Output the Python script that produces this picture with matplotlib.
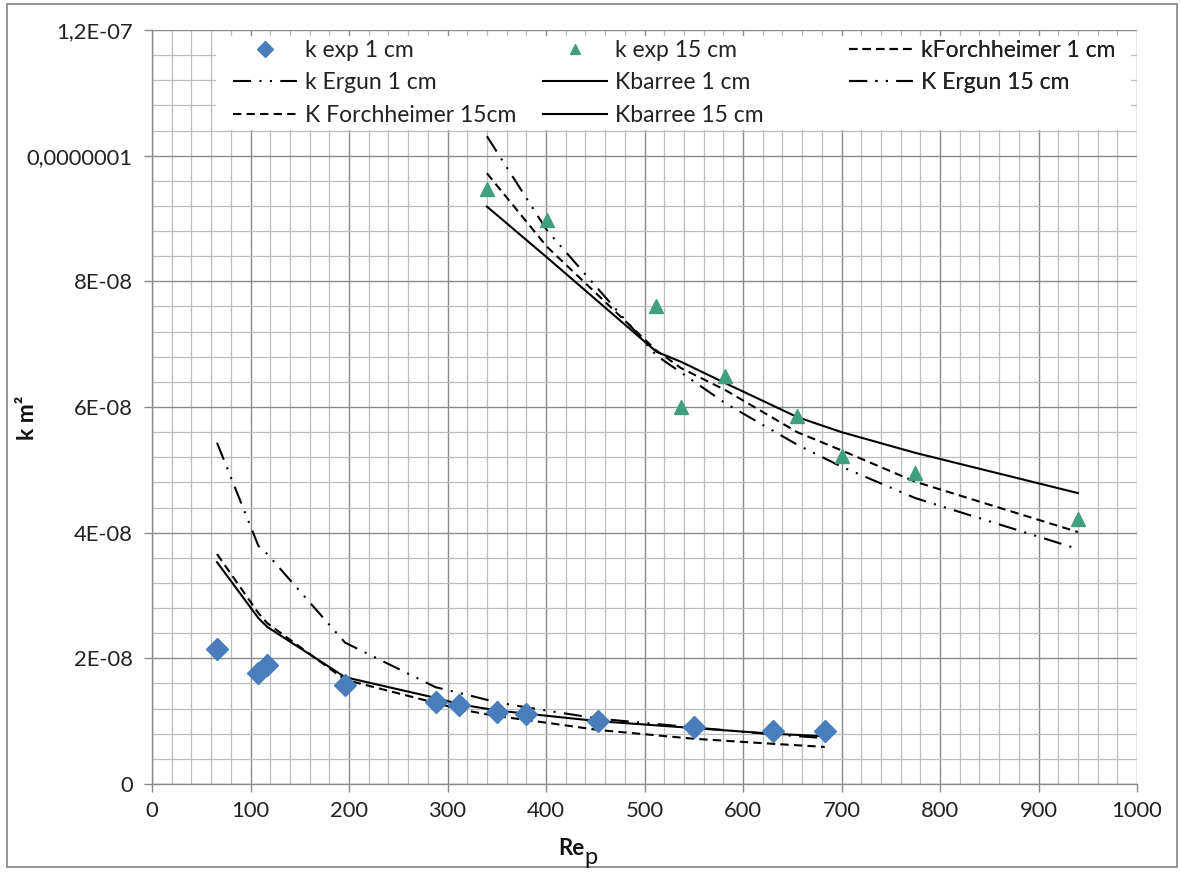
import matplotlib
matplotlib.use("Agg")
import matplotlib.pyplot as plt
from matplotlib.patches import Rectangle
from matplotlib.ticker import MultipleLocator, FixedLocator

plt.rcParams['font.family'] = ['Lato', 'DejaVu Sans']

# ---------------- data ----------------
re_1cm = [66, 108, 117, 196, 288, 312, 350, 380, 453, 550, 630, 683]
k_exp_1cm = [2.15e-8, 1.77e-8, 1.89e-8, 1.57e-8, 1.31e-8, 1.25e-8, 1.14e-8, 1.12e-8,
             1.00e-8, 0.91e-8, 0.85e-8, 0.85e-8]
k_forch_1cm = [3.66e-8, 2.72e-8, 2.56e-8, 1.66e-8, 1.29e-8, 1.19e-8, 1.08e-8, 1.02e-8,
               0.86e-8, 0.72e-8, 0.64e-8, 0.59e-8]
k_ergun_1cm = [5.43e-8, 3.79e-8, 3.66e-8, 2.25e-8, 1.54e-8, 1.45e-8, 1.30e-8, 1.22e-8,
               1.04e-8, 0.90e-8, 0.79e-8, 0.73e-8]
k_barree_1cm = [3.53e-8, 2.64e-8, 2.50e-8, 1.70e-8, 1.37e-8, 1.27e-8, 1.17e-8, 1.12e-8,
                1.00e-8, 0.89e-8, 0.80e-8, 0.76e-8]

re_15cm = [340, 401, 512, 537, 582, 655, 700, 775, 940]
k_exp_15cm = [9.47e-8, 8.97e-8, 7.60e-8, 6.00e-8, 6.50e-8, 5.85e-8, 5.22e-8, 4.95e-8, 4.21e-8]
k_forch_15cm = [9.72e-8, 8.55e-8, 6.90e-8, 6.62e-8, 6.27e-8, 5.60e-8, 5.31e-8, 4.81e-8, 4.01e-8]
k_ergun_15cm = [10.31e-8, 8.81e-8, 6.82e-8, 6.55e-8, 6.06e-8, 5.40e-8, 5.05e-8, 4.55e-8, 3.74e-8]
k_barree_15cm = [9.19e-8, 8.38e-8, 6.88e-8, 6.72e-8, 6.38e-8, 5.84e-8, 5.60e-8, 5.27e-8, 4.63e-8]

x_ticks = [0, 100, 200, 300, 400, 500, 600, 700, 800, 900, 1000]
y_ticks = [0, 2e-8, 4e-8, 6e-8, 8e-8, 1e-7, 1.2e-7]
y_tick_labels = ['0', '2E-08', '4E-08', '6E-08', '8E-08', '0,0000001', '1,2E-07']

# ---------------- figure ----------------
W, H = 1180, 872
fig = plt.figure(figsize=(W / 100, H / 100), dpi=100)
fig.patch.set_facecolor('white')
ax = fig.add_axes([152 / W, 1 - 784 / H, (1137 - 152) / W, (784 - 30) / H])

FS_TICK = 15.8
FS_LEG = 16.5
blue = '#4a7ebb'
green = '#3f9f7e'
ergun_dash = (8.7, 4, 1, 4, 1, 4)
forch_dash = (4, 2.5)
LW = 1.5

h_exp1, = ax.plot(re_1cm, k_exp_1cm, linestyle='none', marker='D', markersize=11,
                  color=blue, markeredgecolor=blue, zorder=4, label='k exp 1 cm')
h_exp15, = ax.plot(re_15cm, k_exp_15cm, linestyle='none', marker='^', markersize=10,
                   color=green, markeredgecolor=green, zorder=4, label='k exp 15 cm')
h_f1, = ax.plot(re_1cm, k_forch_1cm, color='black', lw=LW, dashes=forch_dash,
                zorder=3, label='kForchheimer 1 cm')
h_e1, = ax.plot(re_1cm, k_ergun_1cm, color='black', lw=LW, dashes=ergun_dash,
                zorder=3, label='k Ergun 1 cm')
h_b1, = ax.plot(re_1cm, k_barree_1cm, color='black', lw=LW, zorder=3, label='Kbarree 1 cm')
h_e15, = ax.plot(re_15cm, k_ergun_15cm, color='black', lw=LW, dashes=ergun_dash,
                 zorder=3, label='K Ergun 15 cm')
h_f15, = ax.plot(re_15cm, k_forch_15cm, color='black', lw=LW, dashes=forch_dash,
                 zorder=3, label='K Forchheimer 15cm')
h_b15, = ax.plot(re_15cm, k_barree_15cm, color='black', lw=LW, zorder=3, label='Kbarree 15 cm')

ax.set_xlim(0, 1000)
ax.set_ylim(0, 1.2e-7)
ax.xaxis.set_major_locator(FixedLocator(x_ticks))
ax.xaxis.set_minor_locator(MultipleLocator(20))
ax.yaxis.set_major_locator(FixedLocator(y_ticks))
ax.yaxis.set_minor_locator(MultipleLocator(4e-9))
ax.set_xticklabels([str(v) for v in x_ticks])
ax.set_yticklabels(y_tick_labels)

ax.set_axisbelow(True)
ax.grid(which='major', color='#8a8a8a', lw=1.0)
ax.grid(which='minor', color='#bdbdbd', lw=0.9)
ax.tick_params(which='major', direction='out', length=6, width=1, color='#8a8a8a',
               labelsize=FS_TICK, labelcolor='#222222')
ax.tick_params(axis='y', which='major', pad=8)
ax.tick_params(axis='x', which='major', pad=6)
ax.tick_params(which='minor', length=0)
for s in ['top', 'right']:
    ax.spines[s].set_visible(False)
for s in ['left', 'bottom']:
    ax.spines[s].set_color('#8a8a8a')
    ax.spines[s].set_linewidth(1.0)

# legend background
def ax_x(px):
    return (px - 152) / (1137 - 152)

def ax_y(py):
    return 1 - (py - 30) / (784 - 30)

ax.add_patch(Rectangle((ax_x(216), ax_y(130)), ax_x(1131) - ax_x(216), ax_y(36) - ax_y(130),
                       transform=ax.transAxes, facecolor='white', edgecolor='none', zorder=1.5))

cols = [
    ([h_exp1, h_e1, h_f15], 233),
    ([h_exp15, h_b1, h_b15], 543),
    ([h_f1, h_e15], 849),
]
for handles, px in cols:
    leg = ax.legend(handles=handles, loc='upper left', bbox_to_anchor=(ax_x(px), ax_y(40)),
                    bbox_transform=ax.transAxes, frameon=False, fontsize=FS_LEG,
                    borderpad=0, borderaxespad=0, handlelength=2.8, handletextpad=0.35,
                    labelspacing=0.5, numpoints=1, markerscale=0.7)
    for t in leg.get_texts():
        t.set_color('#222222')
    ax.add_artist(leg)

# axis labels
fig.text(27 / W, 1 - 418 / H, 'k m²', rotation=90, ha='center', va='center',
         fontsize=16.5, fontweight='bold', color='#111111')
fig.text(584 / W, 1 - 848 / H, 'Re', ha='right', va='center', fontsize=16,
         fontweight='bold', color='#111111')
fig.text(584 / W, 1 - 857 / H, 'p', ha='left', va='center', fontsize=17,
         color='#111111')

# outer chart border
fig.add_artist(Rectangle((7 / W, 1 - 867 / H), (1177 - 7) / W, (867 - 4) / H,
                         transform=fig.transFigure, facecolor='none',
                         edgecolor='#8c8c8c', lw=1.3))

fig.savefig('out.png', dpi=100, facecolor='white')
